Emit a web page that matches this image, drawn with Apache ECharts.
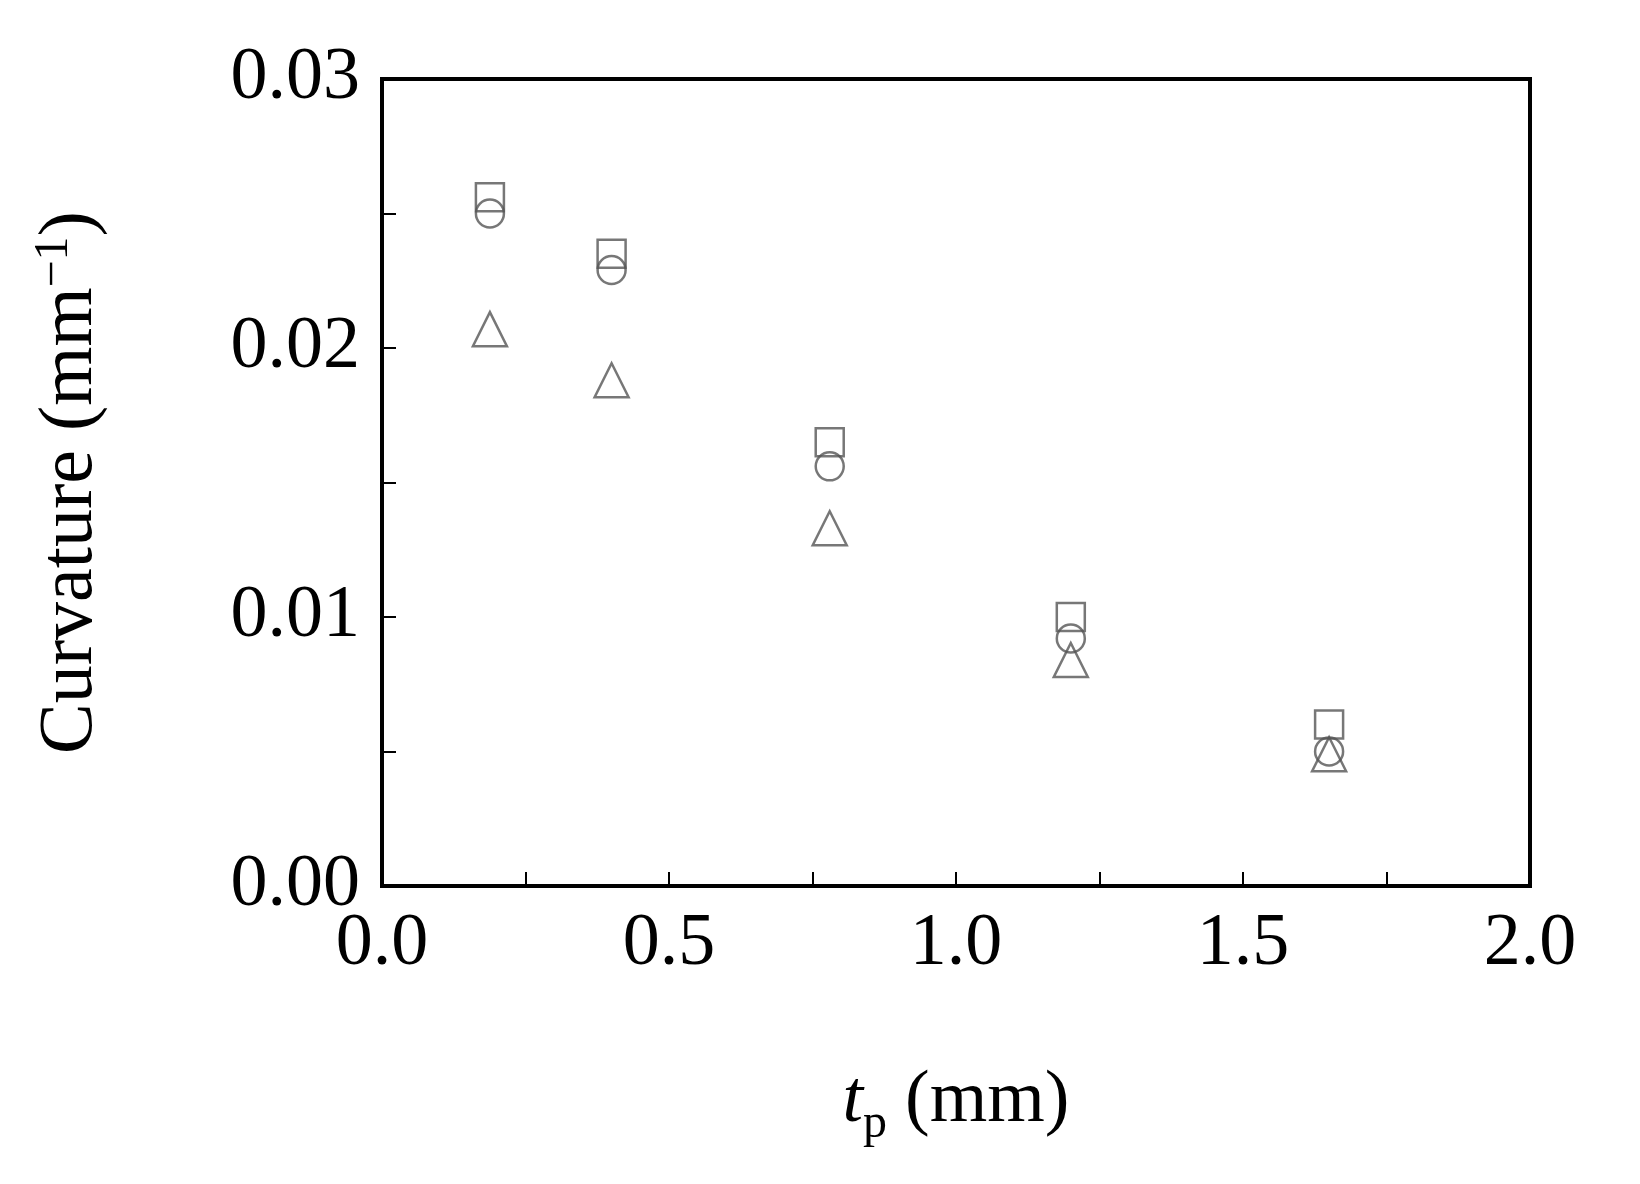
<!DOCTYPE html><html><head><meta charset="utf-8"><script src="https://cdn.jsdelivr.net/npm/echarts@6/dist/echarts.min.js"></script></head><body style="margin:0;background:#fff"><div id="c" style="width:1640px;height:1184px"></div><script>
const xs=[0.188,0.40,0.78,1.20,1.65];
const squareVals=[0.0256,0.0235,0.0165,0.0100,0.0060];
const circleVals=[0.0250,0.0229,0.0156,0.0092,0.0050];
const triangleVals=[0.0207,0.0188,0.0133,0.0084,0.0049];
const xTicks=['0.0','0.5','1.0','1.5','2.0'];
const yTicks=['0.00','0.01','0.02','0.03'];
const F='"Liberation Serif","Times New Roman",serif';
const pair=v=>xs.map((x,i)=>[x,v[i]]);
function ser(name,data,symbol,size){return {name,type:'scatter',data:pair(data),symbol,symbolSize:size,itemStyle:{color:'rgba(0,0,0,0)',borderColor:'#555',borderWidth:2.5}};}
const ax={axisLine:{lineStyle:{color:'#000',width:4}},axisTick:{inside:true,length:14,lineStyle:{color:'#000',width:2}},minorTick:{show:true,splitNumber:2,length:14,lineStyle:{color:'#000',width:2}},splitLine:{show:false}};
echarts.init(document.getElementById('c')).setOption({animation:false,
grid:{left:382,right:110,top:79,bottom:298,show:true,borderColor:'#000',borderWidth:4},
xAxis:Object.assign({type:'value',min:0,max:2,interval:0.5,
 axisLabel:{fontFamily:F,fontSize:74,color:'#000',margin:22,formatter:v=>xTicks[Math.round(v/0.5)]},
 name:'{i|t}{s|p}{n|(mm)}',nameLocation:'middle',nameGap:170,
 nameTextStyle:{rich:{i:{fontFamily:F,fontSize:74,fontStyle:'italic',color:'#000'},s:{fontFamily:F,fontSize:48,color:'#000',verticalAlign:'bottom',padding:[44,0,0,0]},n:{fontFamily:F,fontSize:74,color:'#000',padding:[0,0,0,18]}}}},ax),
yAxis:Object.assign({type:'value',min:0,max:0.03,interval:0.01,
 axisLabel:{fontFamily:F,fontSize:74,color:'#000',margin:22,formatter:v=>yTicks[Math.round(v/0.01)]},
 name:'Curvature (mm{s|−1})',nameLocation:'middle',nameGap:270,
 nameTextStyle:{fontFamily:F,fontSize:76,color:'#000',rich:{s:{fontFamily:F,fontSize:48,color:'#000',verticalAlign:'top',padding:[0,0,34,0]}}}},ax),
series:[ser('sq',squareVals,'rect',28),ser('ci',circleVals,'circle',28),ser('tr',triangleVals,'triangle',34)]});
</script></body></html>
